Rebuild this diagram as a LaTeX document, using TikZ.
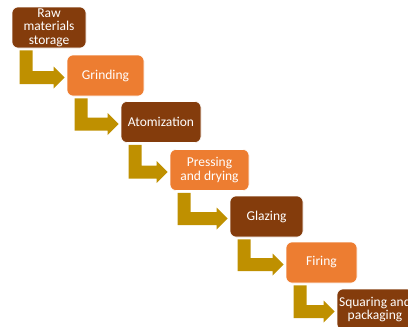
\documentclass[tikz,border=0pt]{standalone}
\usepackage{fontspec}
\setmainfont{Carlito}
\usetikzlibrary{calc}
\definecolor{darkbrown}{HTML}{843C0C}
\definecolor{lightorange}{HTML}{ED7D31}
\definecolor{goldarrow}{HTML}{BF9000}
\tikzset{
  stepbox/.style={rectangle, rounded corners=6pt, draw=white, line width=0.6pt,
    text=white, align=center, inner sep=0pt, minimum height=41pt,
    font=\fontsize{13.5pt}{13.5pt}\selectfont},
  darkbox/.style={stepbox, fill=darkbrown},
  lightbox/.style={stepbox, fill=lightorange},
}
\newcommand{\bentarrow}[2]{%
  \fill[goldarrow] let \p1=(#1.south west), \p2=(#2.west) in
    (\x1+8pt,\y1-2pt) -- (\x1+21pt,\y1-2pt) -- (\x1+21pt,\y2+4.5pt)
    -- (\x2-13pt,\y2+4.5pt) -- (\x2-13pt,\y2+9pt) -- (\x2-2pt,\y2-2pt)
    -- (\x2-13pt,\y2-13pt) -- (\x2-13pt,\y2-8.5pt) -- (\x1+8pt,\y2-8.5pt) -- cycle;%
}
\begin{document}
\begin{tikzpicture}[x=1pt,y=1pt]
\useasboundingbox (0,0) rectangle (408,-327);
\node[darkbox, minimum width=74pt] (n1) at (49,-27.5) {Raw\\materials\\storage};
\node[lightbox, minimum width=77pt] (n2) at (105.5,-75.5) {Grinding};
\node[darkbox, minimum width=80pt] (n3) at (161,-122) {Atomization};
\node[lightbox, minimum width=79pt] (n4) at (209.5,-170) {Pressing\\and drying};
\node[darkbox, minimum width=73pt] (n5) at (266.5,-216.5) {Glazing};
\node[lightbox, minimum width=71pt] (n6) at (321.5,-262.5) {Firing};
\node[darkbox, minimum width=76pt] (n7) at (375,-309.5) {Squaring and\\packaging};
\bentarrow{n1}{n2}
\bentarrow{n2}{n3}
\bentarrow{n3}{n4}
\bentarrow{n4}{n5}
\bentarrow{n5}{n6}
\bentarrow{n6}{n7}
\end{tikzpicture}
\end{document}
